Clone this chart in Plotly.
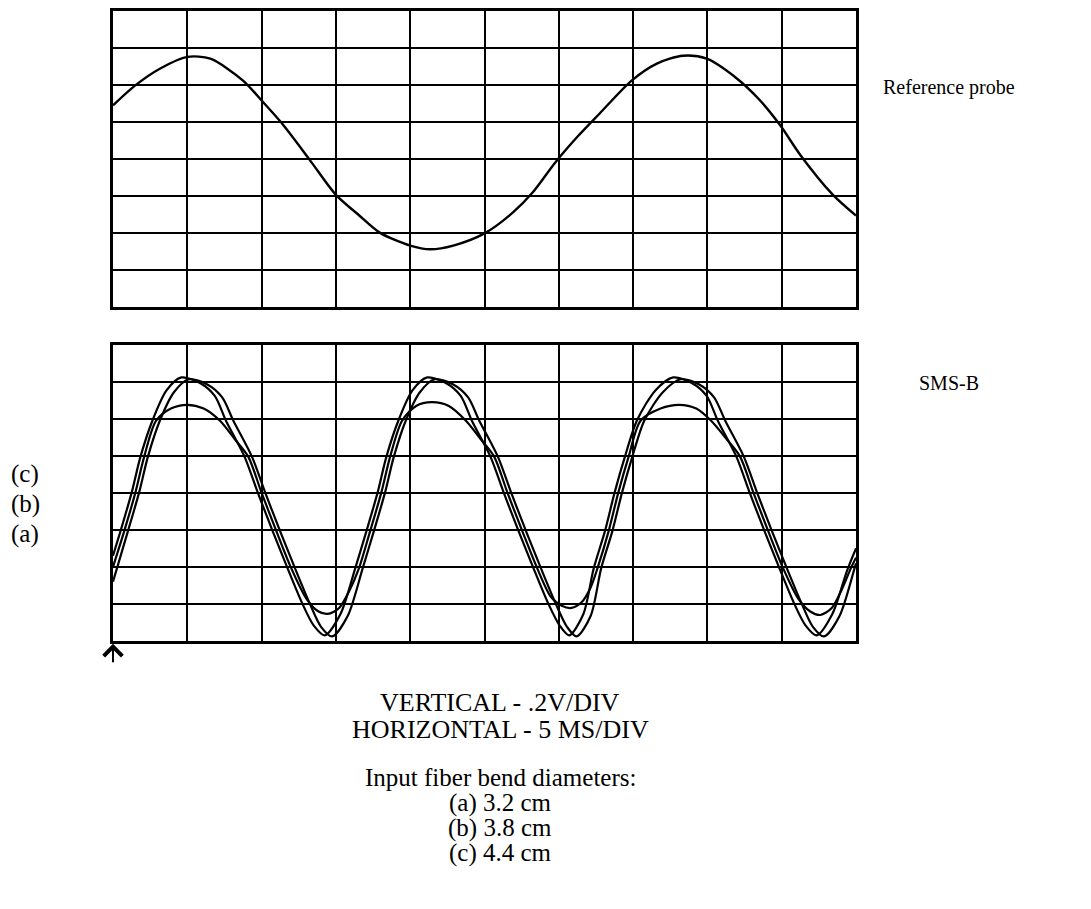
import plotly.graph_objects as go

# ---- data (x in divisions 0..10, y in divisions -4..4) ----
ref_x = [0, 0.30, 0.63, 1.0, 1.31, 1.75, 2.0, 2.27, 2.65, 3.0, 3.3, 3.59, 4.0, 4.27, 4.58,
         5.0, 5.38, 5.65, 5.95, 6.25, 6.55, 6.98, 7.32, 7.67, 7.99, 8.40, 8.7, 8.98, 9.25, 9.69, 10]
ref_y = [1.45, 1.99, 2.44, 2.76, 2.71, 2.12, 1.58, 0.97, -0.03, -0.97, -1.5, -1.99, -2.34, -2.44, -2.34,
         -2.01, -1.45, -0.9, -0.1, 0.6, 1.23, 2.12, 2.58, 2.79, 2.71, 2.17, 1.6, 0.91, 0.11, -0.97, -1.53]

a_x = [0.00, 0.10, 0.25, 0.37, 0.53, 0.72, 0.92, 1.17, 1.37, 1.52, 1.77, 1.95, 2.15, 2.35, 2.55, 2.70,
       2.85, 3.06, 3.26, 3.41, 3.56, 3.68, 3.84, 4.03, 4.23, 4.48, 4.68, 4.83, 5.08, 5.26, 5.46, 5.66,
       5.86, 6.01, 6.14, 6.33, 6.47, 6.62, 6.75, 6.89, 7.05, 7.30, 7.54, 7.79, 7.99, 8.14, 8.39, 8.57,
       8.77, 8.97, 9.17, 9.32, 9.47, 9.68, 9.88, 10.0]
a_y = [-1.70, -1.04, 0.00, 0.98, 1.95, 2.77, 3.12, 2.97, 2.62, 1.95, 0.98, 0.00, -1.04, -2.04, -3.00, -3.58,
       -3.85, -3.28, -2.04, -1.04, 0.00, 0.98, 1.95, 2.77, 3.12, 2.97, 2.62, 1.95, 0.98, 0.00, -1.04, -2.04,
       -3.00, -3.58, -3.85, -3.28, -2.04, -1.04, 0.00, 0.98, 1.95, 2.77, 3.12, 2.97, 2.62, 1.95, 0.98, 0.00,
       -1.04, -2.04, -3.00, -3.58, -3.85, -3.28, -2.10, -1.50]

b_x = [0.00, 0.20, 0.35, 0.47, 0.63, 0.82, 1.02, 1.27, 1.47, 1.62, 1.87, 2.05, 2.25, 2.45, 2.65, 2.80,
       2.95, 3.16, 3.36, 3.51, 3.66, 3.78, 3.94, 4.13, 4.33, 4.58, 4.78, 4.93, 5.18, 5.36, 5.56, 5.76,
       5.96, 6.11, 6.24, 6.43, 6.57, 6.72, 6.85, 6.99, 7.15, 7.40, 7.64, 7.89, 8.09, 8.24, 8.49, 8.67,
       8.87, 9.07, 9.27, 9.42, 9.57, 9.78, 9.98, 10.0]
b_y = [-2.40, -1.04, 0.00, 0.98, 1.95, 2.72, 3.07, 2.93, 2.58, 1.95, 0.98, 0.00, -1.04, -2.04, -3.00, -3.62,
       -3.88, -3.32, -2.04, -1.04, 0.00, 0.98, 1.95, 2.72, 3.07, 2.93, 2.58, 1.95, 0.98, 0.00, -1.04, -2.04,
       -3.00, -3.62, -3.88, -3.32, -2.04, -1.04, 0.00, 0.98, 1.95, 2.72, 3.07, 2.93, 2.58, 1.95, 0.98, 0.00,
       -1.04, -2.04, -3.00, -3.62, -3.88, -3.32, -2.04, -1.90]

c_x = [0.00, 0.15, 0.30, 0.42, 0.58, 0.78, 1.00, 1.22, 1.44, 1.64, 1.82, 2.00, 2.20, 2.40, 2.60, 2.76,
       2.89, 3.04, 3.18, 3.31, 3.46, 3.61, 3.73, 3.89, 4.08, 4.29, 4.52, 4.75, 4.95, 5.13, 5.31, 5.51,
       5.71, 5.89, 6.04, 6.17, 6.31, 6.43, 6.52, 6.67, 6.80, 6.94, 7.10, 7.37, 7.62, 7.85, 8.05, 8.26,
       8.44, 8.62, 8.82, 9.02, 9.22, 9.38, 9.52, 9.67, 9.80, 9.93, 10.0]
c_y = [-2.00, -1.04, 0.00, 0.98, 1.95, 2.28, 2.38, 2.28, 1.95, 1.45, 0.98, 0.00, -1.04, -2.04, -2.85, -3.20,
       -3.27, -3.12, -2.65, -2.04, -1.04, 0.00, 0.98, 1.95, 2.35, 2.45, 2.35, 1.95, 1.45, 0.98, 0.00, -1.04,
       -2.04, -2.80, -3.05, -3.11, -2.95, -2.55, -2.04, -1.04, 0.00, 0.98, 1.95, 2.28, 2.38, 2.28, 1.95, 1.45,
       0.98, 0.00, -1.04, -2.04, -2.85, -3.20, -3.30, -3.12, -2.65, -2.04, -1.75]

side_labels = ["Reference probe", "SMS-B"]
curve_labels = ["(c)", "(b)", "(a)"]
caption_lines = ["VERTICAL - .2V/DIV", "HORIZONTAL - 5 MS/DIV"]
legend_lines = ["Input fiber bend diameters:", "(a) 3.2 cm", "(b) 3.8 cm", "(c) 4.4 cm"]

# page body has an 8px margin: size the figure to fit the window and map screen pixels
OFF = 8
W, H = 1091 - 2 * OFF, 909 - 2 * OFF
def px(x):
    return min(max((x - OFF) / W, 0), 1)
def py(y):
    return min(max(1 - (y - OFF) / H, 0), 1)

FONT = "Liberation Serif, Times New Roman, serif"
fig = go.Figure()
fig.add_trace(go.Scatter(x=ref_x, y=ref_y, mode="lines",
                         line=dict(color="black", width=2.4, shape="spline", smoothing=0.8),
                         xaxis="x", yaxis="y", hoverinfo="skip"))
for xs, ys in [(a_x, a_y), (b_x, b_y), (c_x, c_y)]:
    fig.add_trace(go.Scatter(x=xs, y=ys, mode="lines",
                             line=dict(color="black", width=2.2, shape="spline", smoothing=0.8),
                             xaxis="x2", yaxis="y2", hoverinfo="skip"))

ax_common = dict(showticklabels=False, ticks="", showgrid=True, gridcolor="black", gridwidth=2.2,
                 zeroline=False, showline=True, linecolor="black", linewidth=3, mirror=True, dtick=1)
fig.update_layout(
    width=W, height=H, autosize=False, showlegend=False,
    paper_bgcolor="white", plot_bgcolor="white",
    margin=dict(l=0, r=0, t=0, b=0),
    xaxis=dict(domain=[px(113), px(856)], range=[0, 10], anchor="y", **ax_common),
    yaxis=dict(domain=[py(305), py(8)], range=[-4, 4], anchor="x", **ax_common),
    xaxis2=dict(domain=[px(113), px(856)], range=[0, 10], anchor="y2", **ax_common),
    yaxis2=dict(domain=[py(640), py(343)], range=[-4, 4], anchor="x2", **ax_common),
)

ann = []
ann.append(dict(text=side_labels[0], x=px(949), y=py(85), xanchor="center", yanchor="middle", font=dict(size=20)))
ann.append(dict(text=side_labels[1], x=px(949), y=py(381), xanchor="center", yanchor="middle", font=dict(size=20)))
for lab, yy in zip(curve_labels, [473, 503, 533]):
    ann.append(dict(text=lab, x=px(9), y=py(yy), xanchor="left", yanchor="middle", font=dict(size=25)))
for t, yy in zip(caption_lines, [702, 729]):
    ann.append(dict(text=t, x=px(500), y=py(yy), xanchor="center", yanchor="middle", font=dict(size=26)))
for t, yy in zip(legend_lines, [777, 803, 828, 853]):
    ann.append(dict(text=t, x=px(500), y=py(yy), xanchor="center", yanchor="middle", font=dict(size=25)))
for a in ann:
    a.update(xref="paper", yref="paper", showarrow=False)
    a["font"].update(family=FONT, color="black")
# trigger arrow below the lower screen
ann.append(dict(x=px(113), y=py(643), xref="paper", yref="paper", ax=0, ay=20, axref="pixel", ayref="pixel",
                text="", showarrow=True, arrowhead=4, arrowsize=1.8, arrowwidth=2, arrowcolor="black"))
fig.update_layout(annotations=ann)

fig.write_html("out.html")
